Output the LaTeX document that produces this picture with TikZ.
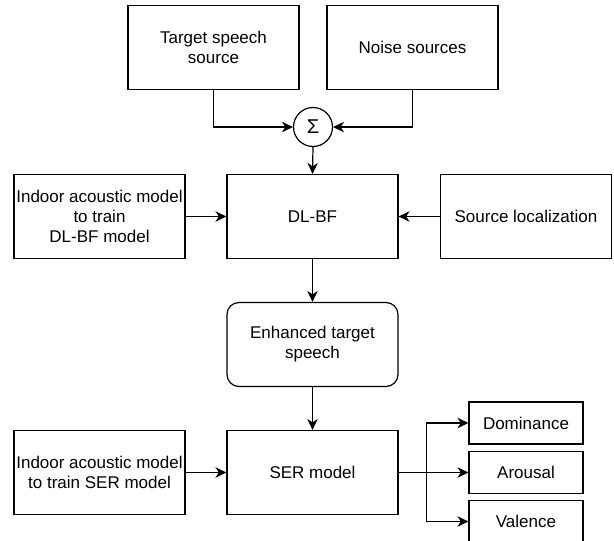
\documentclass[tikz,border=0pt]{standalone}
\usepackage{fontspec}
\setmainfont{Liberation Sans}
\usetikzlibrary{arrows.meta,positioning}

\begin{document}
\begin{tikzpicture}[
    x=1pt, y=-1pt, line width=1.2pt,
    blk/.style={rectangle, draw, minimum width=171pt, minimum height=84pt, inner sep=1pt,
      align=center, font=\fontsize{17}{20}\selectfont},
    rblk/.style={blk, rounded corners=12pt},
    outblk/.style={blk, minimum width=114pt, minimum height=42pt},
    sumnode/.style={circle, draw, minimum size=39pt, inner sep=0pt, font=\fontsize{20}{20}\selectfont},
    arr/.style={-{Stealth[length=11pt, width=10.5pt, inset=3.5pt]}}
  ]
    \useasboundingbox (0,0) rectangle (614,541);
    \clip (0,0) rectangle (614,541);

    % sources and mixing
    \node[blk]     (tgt)   at (213.5,47.5)  {Target speech\\source};
    \node[blk]     (noise) at (412.5,47.5)  {Noise sources};
    \node[sumnode] (sum)   at (313,127)     {Σ};

    % beamforming stage
    \node[blk]     (bf)    at (312.5,216.5) {DL-BF};
    \node[blk]     (room1) at (99.5,216.5)  {Indoor acoustic model\\to train\\DL-BF model};
    \node[blk]     (loc)   at (526,216.5)   {Source localization};
    \node[rblk]    (enh)   at (312.5,344.5) {Enhanced target\\speech};

    % emotion recognition stage
    \node[blk]     (ser)   at (312.5,472.5) {SER model};
    \node[blk]     (room2) at (99.5,472.5)  {Indoor acoustic model\\to train SER model};
    \node[outblk]  (dom)   at (526,423)     {Dominance};
    \node[outblk]  (aro)   at (526,472.5)   {Arousal};
    \node[outblk]  (val)   at (526,521.5)   {Valence};
    \coordinate (br) at (426.5,472.5);

    \draw[arr] (tgt.south) |- (sum.west);
    \draw[arr] (noise.south) |- (sum.east);
    \draw[arr] (sum.south) -- (bf.north);
    \draw[arr] (room1.east) -- (bf.west);
    \draw[arr] (loc.west) -- (bf.east);
    \draw[arr] (bf.south) -- (enh.north);
    \draw[arr] (enh.south) -- (ser.north);
    \draw[arr] (room2.east) -- (ser.west);
    \draw[arr] (ser.east) -- (aro.west);
    \draw[arr] (br) |- (dom.west);
    \draw[arr] (br) |- (val.west);
  \end{tikzpicture}
\end{document}
